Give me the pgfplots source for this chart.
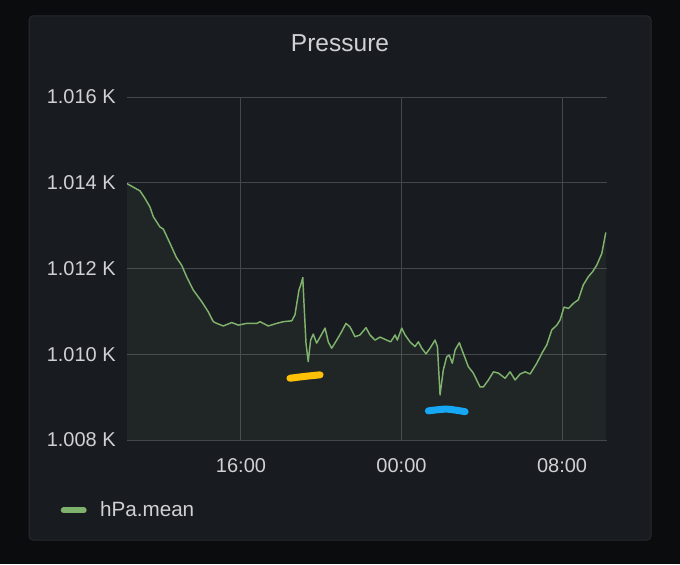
\documentclass[border=0pt]{standalone}
\usepackage{pgfplots}
\pgfplotsset{compat=1.18}
\usepackage{pgfplotstable}
\usepackage{fontspec}
\setmainfont{Liberation Sans}
\definecolor{outerbg}{HTML}{0B0C0E}
\definecolor{panelbg}{HTML}{181B1F}
\definecolor{panelborder}{HTML}{26292E}
\definecolor{gridcol}{HTML}{44474C}
\definecolor{textcol}{HTML}{D0D1D5}
\definecolor{lineg}{HTML}{7EB26D}
\definecolor{yelcol}{HTML}{FFC107}
\definecolor{bluecol}{HTML}{17A8F5}

\pgfplotstableread{
t p
10.32 1013.98
10.55 1013.92
10.97 1013.81
11.21 1013.64
11.46 1013.44
11.63 1013.21
11.96 1012.97
12.13 1012.92
12.46 1012.59
12.79 1012.25
13.04 1012.08
13.29 1011.81
13.62 1011.50
14.04 1011.23
14.37 1010.99
14.62 1010.76
14.79 1010.72
15.12 1010.66
15.54 1010.74
15.87 1010.68
16.28 1010.72
16.78 1010.72
16.95 1010.76
17.36 1010.66
17.78 1010.72
18.11 1010.76
18.53 1010.78
18.69 1010.92
18.89 1011.50
18.98 1011.62
19.08 1011.79
19.14 1011.19
19.24 1010.26
19.35 1009.83
19.47 1010.33
19.60 1010.47
19.77 1010.26
19.94 1010.40
20.19 1010.61
20.35 1010.29
20.52 1010.14
20.77 1010.33
21.02 1010.53
21.23 1010.72
21.43 1010.64
21.68 1010.41
21.93 1010.45
22.23 1010.62
22.43 1010.45
22.68 1010.33
22.93 1010.40
23.26 1010.33
23.46 1010.29
23.68 1010.45
23.79 1010.33
24.01 1010.61
24.18 1010.45
24.42 1010.29
24.67 1010.18
24.84 1010.29
25.01 1010.14
25.22 1010.01
25.42 1010.14
25.67 1010.33
25.79 1010.18
25.92 1009.05
26.08 1009.63
26.25 1009.94
26.38 1009.98
26.53 1009.79
26.67 1010.10
26.88 1010.27
27.08 1010.02
27.33 1009.71
27.58 1009.56
27.91 1009.24
28.08 1009.24
28.33 1009.40
28.58 1009.59
28.83 1009.56
29.16 1009.44
29.41 1009.59
29.66 1009.40
29.91 1009.54
30.16 1009.59
30.41 1009.54
30.74 1009.79
30.99 1010.02
31.24 1010.22
31.49 1010.57
31.74 1010.68
31.90 1010.80
32.10 1011.10
32.32 1011.07
32.57 1011.19
32.81 1011.27
33.06 1011.62
33.31 1011.81
33.53 1011.93
33.73 1012.08
33.98 1012.35
34.18 1012.84
}\pressure

\begin{document}
\begin{tikzpicture}
\fill[outerbg] (0pt,0pt) rectangle (510pt,423pt);
\filldraw[fill=panelbg, draw=panelborder, line width=0.75pt, rounded corners=3pt] (21.75pt,18pt) rectangle (488.25pt,411pt);
\node[anchor=base, text=textcol, font=\fontsize{18.4}{22}\selectfont, inner sep=0pt] at (255pt,384.2pt) {Pressure};
\begin{axis}[
  at={(95.25pt,93pt)}, anchor=south west,
  scale only axis, width=360pt, height=257.25pt,
  xmin=10.32, xmax=34.24, ymin=1008, ymax=1016,
  xtick={16,24,32}, xticklabels={16:00,00:00,08:00},
  ytick={1008,1010,1012,1014,1016},
  yticklabels={1.008 K,1.010 K,1.012 K,1.014 K,1.016 K},
  grid=major, major grid style={gridcol, line width=0.75pt},
  axis line style={draw=none}, tick style={draw=none},
  ticklabel style={text=textcol, font=\fontsize{15}{18}\selectfont, inner sep=0pt},
  yticklabel style={xshift=-8.25pt},
  xticklabel style={yshift=-13.5pt},
  legend style={draw=none, fill=none, inner sep=0pt, outer sep=0pt,
    at={(-0.1381,-0.205)}, anchor=west, text=textcol,
    font=\fontsize{15.5}{18}\selectfont, nodes={inner sep=0pt}},
  legend image code/.code={
    \draw[lineg, line width=4.5pt, line cap=round] (2.25pt,0pt) -- (17.25pt,0pt);
    \path[draw=none] (0pt,0pt) -- (29.5pt,0pt);
  },
  clip=true,
]
\addplot[draw=none, fill=lineg, fill opacity=0.08, forget plot] table {\pressure} \closedcycle;
\addplot[lineg, line width=1.1pt, line join=round] table {\pressure};
\addlegendentry{hPa.mean}
\addplot[yelcol, line width=5.25pt, line cap=round, smooth, forget plot] coordinates {(18.44,1009.44) (19.11,1009.48) (19.94,1009.52)};
\addplot[bluecol, line width=5.25pt, line cap=round, smooth, forget plot] coordinates {(25.34,1008.68) (26.25,1008.72) (27.17,1008.66)};
\end{axis}
\pgfresetboundingbox
\useasboundingbox (0pt,0pt) rectangle (510pt,423pt);
\end{tikzpicture}
\end{document}
